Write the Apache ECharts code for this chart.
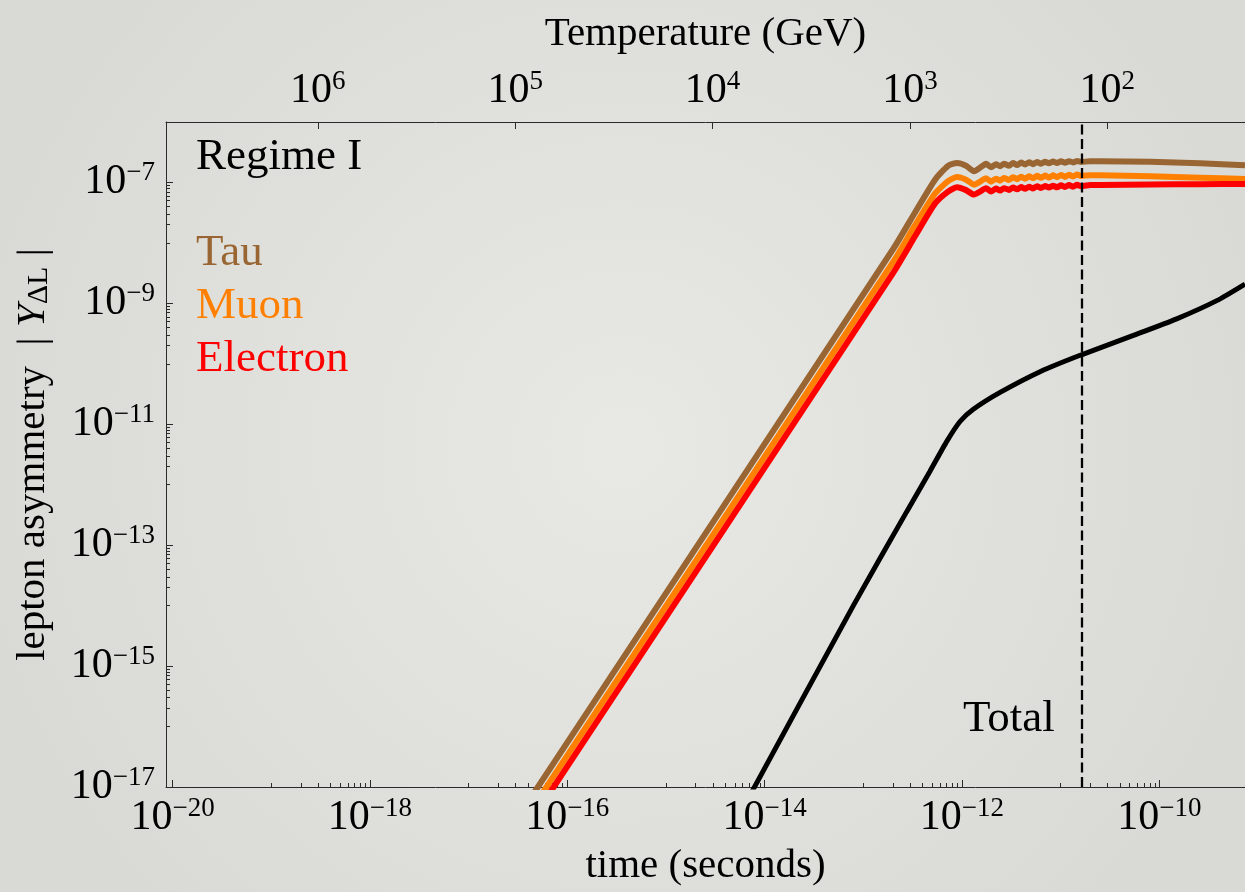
<!DOCTYPE html>
<html>
<head>
<meta charset="utf-8">
<title>Lepton asymmetry vs time</title>
<script src="https://cdn.jsdelivr.net/npm/echarts@6/dist/echarts.min.js"></script>
<style>
  html, body { margin: 0; padding: 0; background: #e3e3df; }
  #chart { width: 1245px; height: 892px; }
</style>
</head>
<body>
<div id="chart"></div>
<script>
// Each point is [log10(t / s), log10 |Y_ΔL|]
const tauCurve = [
  [-16.377, -17.196], [-12.699, -8.105], [-12.476, -7.497], [-12.273, -6.954], [-12.141, -6.724],
  [-12.050, -6.679], [-11.959, -6.724], [-11.878, -6.814], [-11.817, -6.757],
  [-11.756, -6.691], [-11.705, -6.748], [-11.655, -6.699], [-11.614, -6.732],
  [-11.574, -6.691], [-11.523, -6.724], [-11.483, -6.678], [-11.442, -6.712],
  [-11.401, -6.671], [-11.361, -6.704], [-11.320, -6.666], [-11.280, -6.697],
  [-11.239, -6.661], [-11.199, -6.691], [-11.158, -6.658], [-11.118, -6.684],
  [-11.077, -6.655], [-11.037, -6.679], [-10.996, -6.651], [-10.956, -6.674],
  [-10.915, -6.648], [-10.874, -6.668], [-10.834, -6.645], [-10.793, -6.661],
  [-10.702, -6.650], [-10.601, -6.650], [-10.094, -6.658], [-9.587, -6.683],
  [-9.132, -6.716]
];
const muonCurve = [
  [-16.377, -17.411], [-12.699, -8.319], [-12.476, -7.711], [-12.273, -7.184], [-12.141, -6.979],
  [-12.050, -6.910], [-11.959, -6.954], [-11.878, -7.036], [-11.817, -6.987],
  [-11.756, -6.929], [-11.705, -6.987], [-11.655, -6.938], [-11.614, -6.970],
  [-11.574, -6.926], [-11.523, -6.959], [-11.483, -6.913], [-11.442, -6.946],
  [-11.401, -6.905], [-11.361, -6.938], [-11.320, -6.898], [-11.280, -6.931],
  [-11.239, -6.891], [-11.199, -6.924], [-11.158, -6.887], [-11.118, -6.918],
  [-11.077, -6.882], [-11.037, -6.913], [-10.996, -6.877], [-10.956, -6.908],
  [-10.915, -6.872], [-10.874, -6.901], [-10.834, -6.868], [-10.793, -6.893],
  [-10.702, -6.880], [-10.601, -6.882], [-10.094, -6.898], [-9.587, -6.921],
  [-9.132, -6.942]
];
const electronCurve = [
  [-16.377, -17.592], [-12.699, -8.500], [-12.476, -7.891], [-12.273, -7.349], [-12.141, -7.151],
  [-12.050, -7.081], [-11.959, -7.127], [-11.878, -7.201], [-11.817, -7.151],
  [-11.756, -7.094], [-11.705, -7.151], [-11.655, -7.102], [-11.614, -7.135],
  [-11.574, -7.094], [-11.523, -7.123], [-11.483, -7.082], [-11.442, -7.113],
  [-11.401, -7.076], [-11.361, -7.105], [-11.320, -7.069], [-11.280, -7.099],
  [-11.239, -7.062], [-11.199, -7.092], [-11.158, -7.058], [-11.118, -7.085],
  [-11.077, -7.053], [-11.037, -7.081], [-10.996, -7.048], [-10.956, -7.076],
  [-10.915, -7.043], [-10.874, -7.071], [-10.834, -7.039], [-10.793, -7.062],
  [-10.702, -7.044], [-10.601, -7.041], [-10.094, -7.033], [-9.587, -7.028],
  [-9.132, -7.025]
];
const totalCurve = [
  [-14.168, -17.197], [-13.101, -14.000], [-12.560, -12.445], [-12.324, -11.776],
  [-12.154, -11.283], [-12.020, -10.954], [-11.885, -10.752], [-11.614, -10.473],
  [-11.209, -10.130], [-10.803, -9.859], [-10.263, -9.530], [-9.824, -9.256],
  [-9.418, -8.955], [-9.132, -8.680]
];

// Electroweak crossover, log10(t / s)
const ewTransitionLogT = -10.79;

// Axis ranges and tick exponents
const timeRange = [-20.066, -9.132];
const asymRange = [-17, -6];
const timeTickExponents = [-20, -18, -16, -14, -12, -10];
const asymTickExponents = [-17, -15, -13, -11, -9, -7];
const temperatureExponents = [6, 5, 4, 3, 2];
// log10(t / s) at T = 100 GeV; radiation era, t ∝ T^-2
const logTimeAt100GeV = -10.527;

const FONT = 'Liberation Serif';
const TAU = '#996633', MUON = '#ff8000', ELECTRON = '#ff0000', TOTAL = '#000000';

const toLogTime = k => logTimeAt100GeV - 2 * (k - 2);
const toTempExp = v => Math.round(2 - (v - logTimeAt100GeV) / 2);

// minor ticks: 1..9 × 10^e in the decade between two labelled ticks
function minorTicks(firstDecade, lastDecade, step) {
  const out = [];
  for (let e = firstDecade; e <= lastDecade; e += step) {
    for (let m = 1; m <= 9; m++) out.push(e + Math.log10(m));
  }
  return out;
}
const timeMinor = minorTicks(-19, -11, 2);
const asymMinor = minorTicks(-16, -8, 2);

function powLabel(e) {
  return '{b|10}{s|' + (e < 0 ? '\u2212' + (-e) : String(e)) + '}';
}
const powRich = {
  b: { fontFamily: FONT, fontSize: 42, lineHeight: 46, color: '#000' },
  s: { fontFamily: FONT, fontSize: 27, lineHeight: 30, verticalAlign: 'top', color: '#000' }
};
const axisLineStyle = { color: '#2a2a2a', width: 1 };

const chart = echarts.init(document.getElementById('chart'), null, { renderer: 'canvas' });

function curve(name, data, color, width) {
  return {
    name, type: 'line', data, showSymbol: false, symbol: 'none',
    smooth: 0.2, lineStyle: { color, width }, itemStyle: { color },
    silent: true
  };
}

const totalSeries = curve('Total', totalCurve, TOTAL, 5);
totalSeries.markLine = {
  silent: true, symbol: ['none', 'none'], label: { show: false },
  lineStyle: { type: [10, 4.5], color: '#000', width: 2.3 },
  data: [{ xAxis: ewTransitionLogT }]
};

chart.setOption({
  animation: false,
  backgroundColor: {
    type: 'radial', x: 0.5, y: 0.5, r: 0.75,
    colorStops: [
      { offset: 0, color: '#e8e8e4' },
      { offset: 1, color: '#d9d9d5' }
    ]
  },
  title: [
    {
      text: 'Regime I', left: 196, top: 135, padding: 0,
      textStyle: { fontFamily: FONT, fontSize: 45, lineHeight: 45, fontWeight: 'normal', color: '#000' }
    },
    {
      text: 'Total', left: 963, top: 697, padding: 0,
      textStyle: { fontFamily: FONT, fontSize: 45, lineHeight: 45, fontWeight: 'normal', color: '#000' }
    }
  ],
  legend: {
    orient: 'vertical', left: 191, top: 231, padding: 0,
    icon: 'none', itemWidth: 0, itemHeight: 0, itemGap: 8,
    selectedMode: false,
    textStyle: { fontFamily: FONT, fontSize: 45, lineHeight: 45 },
    data: [
      { name: 'Tau', textStyle: { color: TAU } },
      { name: 'Muon', textStyle: { color: MUON } },
      { name: 'Electron', textStyle: { color: ELECTRON } }
    ]
  },
  grid: { left: 166, top: 122, width: 1079, height: 669 },
  xAxis: [
    {
      type: 'value', position: 'bottom', min: timeRange[0], max: timeRange[1],
      axisLine: { show: true, onZero: false, lineStyle: axisLineStyle },
      axisTick: { show: true, inside: true, length: 7, customValues: timeTickExponents, lineStyle: axisLineStyle },
      axisLabel: { customValues: timeTickExponents, margin: 8, formatter: v => powLabel(Math.round(v)), rich: powRich },
      splitLine: { show: false },
      name: 'time (seconds)', nameLocation: 'middle', nameGap: 59,
      nameTextStyle: { fontFamily: FONT, fontSize: 41, lineHeight: 41, color: '#000' }
    },
    {
      type: 'value', position: 'top', min: timeRange[0], max: timeRange[1],
      axisLine: { show: true, onZero: false, lineStyle: axisLineStyle },
      axisTick: { show: true, inside: true, length: 7, customValues: temperatureExponents.map(toLogTime), lineStyle: axisLineStyle },
      axisLabel: { customValues: temperatureExponents.map(toLogTime), margin: 8, formatter: v => powLabel(toTempExp(v)), rich: powRich },
      splitLine: { show: false },
      name: 'Temperature (GeV)', nameLocation: 'middle', nameGap: 67,
      nameTextStyle: { fontFamily: FONT, fontSize: 41, lineHeight: 41, color: '#000' }
    },
    {
      type: 'value', position: 'bottom', min: timeRange[0], max: timeRange[1],
      axisLine: { show: false },
      axisTick: { show: true, inside: true, length: 4, customValues: timeMinor, lineStyle: axisLineStyle },
      axisLabel: { show: false },
      splitLine: { show: false }
    }
  ],
  yAxis: [
    {
      type: 'value', position: 'left', min: asymRange[0], max: asymRange[1],
      axisLine: { show: true, onZero: false, lineStyle: axisLineStyle },
      axisTick: { show: true, inside: true, length: 7, customValues: asymTickExponents, lineStyle: axisLineStyle },
      axisLabel: { customValues: asymTickExponents, margin: 11, formatter: v => powLabel(Math.round(v)), rich: powRich },
      splitLine: { show: false },
      name: '{n|lepton asymmetry  | }{y|Y}{d|ΔL}{n| |}',
      nameLocation: 'middle', nameGap: 112, nameRotate: 90,
      nameTextStyle: {
        rich: {
          n: { fontFamily: FONT, fontSize: 41, lineHeight: 41, color: '#000' },
          y: { fontFamily: FONT, fontSize: 41, lineHeight: 41, fontStyle: 'italic', color: '#000' },
          d: { fontFamily: FONT, fontSize: 30, lineHeight: 22, verticalAlign: 'bottom', color: '#000' }
        }
      }
    },
    {
      type: 'value', position: 'left', min: asymRange[0], max: asymRange[1],
      axisLine: { show: false },
      axisTick: { show: true, inside: true, length: 4, customValues: asymMinor, lineStyle: axisLineStyle },
      axisLabel: { show: false },
      splitLine: { show: false }
    }
  ],
  series: [
    curve('Tau', tauCurve, TAU, 6),
    curve('Muon', muonCurve, MUON, 6),
    curve('Electron', electronCurve, ELECTRON, 6),
    totalSeries
  ]
});
</script>
</body>
</html>
